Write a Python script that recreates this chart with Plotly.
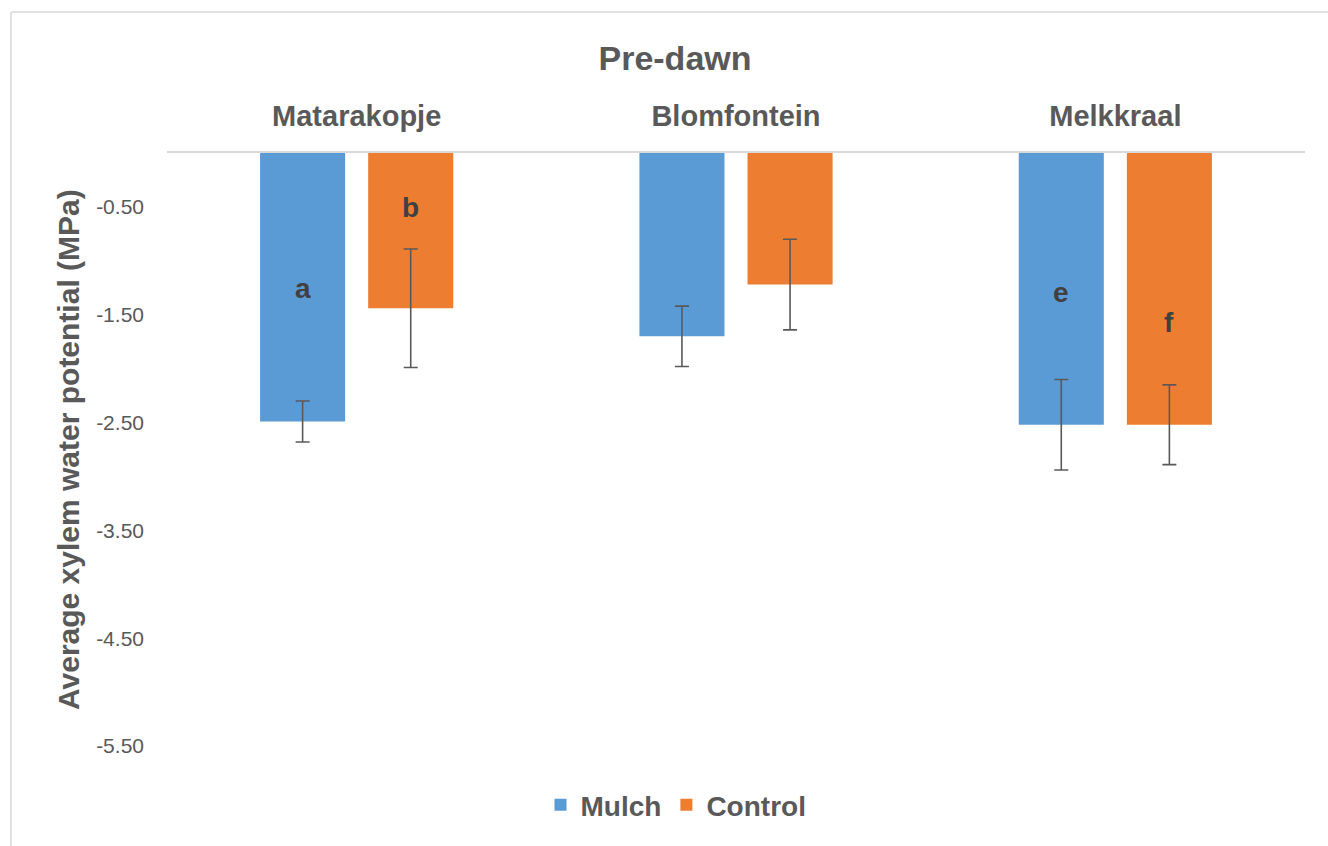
import plotly.graph_objects as go

# Sites and treatments
sites = ["Matarakopje", "Blomfontein", "Melkkraal"]
mulch_mean = [-2.49, -1.70, -2.52]
mulch_err = [0.19, 0.28, 0.42]
control_mean = [-1.44, -1.22, -2.52]
control_err = [0.55, 0.42, 0.37]

# Significance letters (site, treatment, letter, y position in MPa)
letter_sites = ["Matarakopje", "Matarakopje", "Melkkraal", "Melkkraal"]
letter_series = ["Mulch", "Control", "Mulch", "Control"]
letter_text = ["a", "b", "e", "f"]
letter_y = [-1.26, -0.51, -1.29, -1.57]

y_ticks = [-0.5, -1.5, -2.5, -3.5, -4.5, -5.5]

FONT = "Liberation Sans"
GREY = "#595959"
BLUE = "#5B9BD5"
ORANGE = "#ED7D31"

W, H = 1328, 846
ML, MR, MT, MB = 167, 23, 153, 73
PW, PH = W - ML - MR, H - MT - MB


def px_x(px):
    return (px - ML) / PW


def px_y(py):
    return (H - MB - py) / PH


err_style = dict(type="data", color=GREY, thickness=1.6, width=7)

fig = go.Figure()
fig.add_trace(go.Bar(
    name="<b>Mulch</b>", x=sites, y=mulch_mean, marker_color=BLUE,
    marker_line_width=0,
    error_y=dict(array=mulch_err, **err_style),
))
fig.add_trace(go.Bar(
    name="<b>Control</b>", x=sites, y=control_mean, marker_color=ORANGE,
    marker_line_width=0,
    error_y=dict(array=control_err, **err_style),
))

annotations = []
for s, ser, t, yv in zip(letter_sites, letter_series, letter_text, letter_y):
    annotations.append(dict(
        x=s, y=yv, xref="x", yref="y", text=f"<b>{t}</b>", showarrow=False,
        xshift=-54 if ser == "Mulch" else 54,
        font=dict(family=FONT, size=28, color="#404040"),
    ))

# y-axis title
annotations.append(dict(
    x=px_x(68), y=px_y(450), xref="paper", yref="paper",
    xanchor="center", yanchor="middle",
    text="<b>Average xylem water potential (MPa)</b>", textangle=-90,
    showarrow=False, font=dict(family=FONT, size=30, color=GREY),
))

shapes = [
    # chart frame: top and left edges
    dict(type="line", xref="paper", yref="paper",
         x0=px_x(11), x1=px_x(1330), y0=px_y(12), y1=px_y(12),
         line=dict(color="#D9D9D9", width=1.5)),
    dict(type="line", xref="paper", yref="paper",
         x0=px_x(11), x1=px_x(11), y0=px_y(12), y1=px_y(850),
         line=dict(color="#D9D9D9", width=1.5)),
]

fig.update_layout(
    width=W, height=H,
    margin=dict(l=ML, r=MR, t=MT, b=MB),
    paper_bgcolor="white", plot_bgcolor="white",
    barmode="group", bargap=0.43, bargroupgap=0.213,
    title=dict(text="<b>Pre-dawn</b>", x=675 / W, y=1 - 58 / H,
               xanchor="center", yanchor="middle", xref="container",
               yref="container",
               font=dict(family=FONT, size=34, color=GREY)),
    font=dict(family=FONT, color=GREY),
    xaxis=dict(side="top", showline=True, linecolor="#D9D9D9", linewidth=2,
               ticks="", showgrid=False, zeroline=False,
               tickfont=dict(family=FONT, size=29, color=GREY, weight="bold"),
               ticklabelstandoff=13),
    yaxis=dict(range=[-5.75, 0], tickvals=y_ticks,
               ticktext=[f"{v:.2f}" for v in y_ticks],
               showgrid=False, zeroline=False, showline=False, ticks="",
               tickfont=dict(family=FONT, size=21, color=GREY),
               ticklabelstandoff=22),
    legend=dict(orientation="h", x=px_x(676), y=px_y(805),
                xanchor="center", yanchor="middle",
                font=dict(family=FONT, size=28, color=GREY),
                itemclick=False, traceorder="normal"),
    annotations=annotations,
    shapes=shapes,
)

fig.write_html("out.html")
